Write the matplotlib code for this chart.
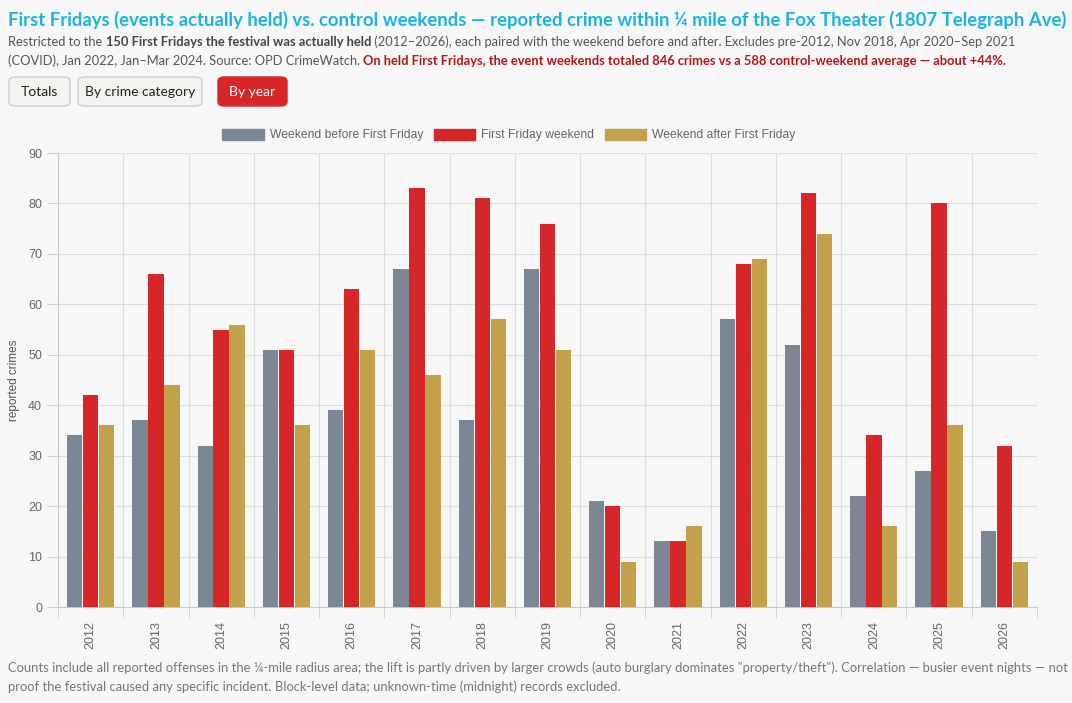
import matplotlib.pyplot as plt
from matplotlib.patches import FancyBboxPatch, Patch

years = ["2012", "2013", "2014", "2015", "2016", "2017", "2018", "2019",
         "2020", "2021", "2022", "2023", "2024", "2025", "2026"]
before = [34, 37, 32, 51, 39, 67, 37, 67, 21, 13, 57, 52, 22, 27, 15]
first_friday = [42, 66, 55, 51, 63, 83, 81, 76, 20, 13, 68, 82, 34, 80, 32]
after = [36, 44, 56, 36, 51, 46, 57, 51, 9, 16, 69, 74, 16, 36, 9]
series_names = ["Weekend before First Friday", "First Friday weekend", "Weekend after First Friday"]

BG = "#f7f7f7"
GRAY = "#7b8794"
RED = "#d62628"
GOLD = "#c2a14a"
W, H = 1072, 703
UI_FONT = "Lato"

fig = plt.figure(figsize=(W / 100, H / 100), dpi=100, facecolor=BG)
renderer = fig.canvas.get_renderer()


def fx(x):
    return x / W


def fy(y):
    return 1 - y / H


def run_text(x, y, parts, size, family=UI_FONT):
    # draw text segments one after another on one line
    for txt, weight, color in parts:
        t = fig.text(fx(x), fy(y), txt, fontsize=size, fontweight=weight, color=color,
                     family=family, va="baseline", ha="left")
        x += t.get_window_extent(renderer=renderer).width


# title and subtitle
fig.text(fx(8), fy(26), "First Fridays (events actually held) vs. control weekends \u2014 reported crime "
         "within \u00bc mile of the Fox Theater (1807 Telegraph Ave)",
         fontsize=13.3, fontweight="bold", color="#17b5e6", family=UI_FONT, va="baseline")
sub_gray = "#555555"
run_text(8, 46, [("Restricted to the ", "normal", sub_gray),
                 ("150 First Fridays the festival was actually held", "bold", "#444444"),
                 (" (2012\u20132026), each paired with the weekend before and after. Excludes pre-2012, "
                  "Nov 2018, Apr 2020\u2013Sep 2021", "normal", sub_gray)], 9.3)
run_text(8, 65, [("(COVID), Jan 2022, Jan\u2013Mar 2024. Source: OPD CrimeWatch. ", "normal", sub_gray),
                 ("On held First Fridays, the event weekends totaled 846 crimes vs a 588 "
                  "control-weekend average \u2014 about +44%.", "bold", "#b3151b")], 9.3)

# tab buttons
buttons = [("Totals", 9, 70, False), ("By crime category", 78, 202, False), ("By year", 218, 287, True)]
for label, x0, x1, active in buttons:
    box = FancyBboxPatch((fx(x0), fy(106)), fx(x1 - x0), 29 / H,
                         boxstyle="round,pad=0,rounding_size=0.006",
                         transform=fig.transFigure, facecolor=RED if active else "#f4f3ef",
                         edgecolor=RED if active else "#cccccc", linewidth=1)
    fig.patches.append(box)
    fig.text(fx((x0 + x1) / 2), fy(92), label, ha="center", va="center", fontsize=10,
             family=UI_FONT, color="white" if active else "#222222")

# chart
ax = fig.add_axes([fx(58), fy(607), fx(1037 - 58), (607 - 153) / H])
ax.set_facecolor(BG)
xs = list(range(len(years)))
bw = 0.235
for vals, color, off in [(before, GRAY, -0.245), (first_friday, RED, 0), (after, GOLD, 0.245)]:
    ax.bar([x + off for x in xs], vals, width=bw, color=color, zorder=3)

ax.set_xlim(-0.5, len(years) - 0.5)
ax.set_ylim(0, 90)
ax.set_yticks(range(0, 91, 10))
ax.set_xticks(xs)
ax.set_xticklabels(years, rotation=90, family="Liberation Sans", fontsize=9, color="#666666")
ax.set_xticks([x - 0.5 for x in range(len(years) + 1)], minor=True)
ax.tick_params(axis="x", which="major", length=0, pad=10)
ax.tick_params(axis="x", which="minor", length=8, color="#d0d0d0")
ax.tick_params(axis="y", length=8, color="#d0d0d0", labelsize=9, labelcolor="#666666")
for lab in ax.get_yticklabels():
    lab.set_family("Liberation Sans")
ax.grid(axis="y", color="#dddddd", linewidth=0.8, zorder=0)
ax.grid(axis="x", which="minor", color="#dddddd", linewidth=0.8, zorder=0)
for side in ["top", "right"]:
    ax.spines[side].set_visible(False)
for side in ["left", "bottom"]:
    ax.spines[side].set_color("#c8c8c8")
ax.set_ylabel("reported crimes", family="Liberation Sans", fontsize=8.5, color="#555555", labelpad=6)

handles = [Patch(facecolor=c, edgecolor=c) for c in (GRAY, RED, GOLD)]
leg = fig.legend(handles, series_names, loc="center", bbox_to_anchor=(fx(509), fy(135)), ncol=3,
                 frameon=False, handlelength=3.4, handleheight=1.0, columnspacing=0.9,
                 handletextpad=0.5, prop={"family": "Liberation Sans", "size": 8.7})
for t in leg.get_texts():
    t.set_color("#666666")

# footnote
foot = "#777777"
fig.text(fx(8), fy(672), "Counts include all reported offenses in the \u00bc-mile radius area; the lift is partly "
         "driven by larger crowds (auto burglary dominates \"property/theft\"). Correlation \u2014 busier event "
         "nights \u2014 not", fontsize=9.4, color=foot, family=UI_FONT, va="baseline")
fig.text(fx(8), fy(691), "proof the festival caused any specific incident. Block-level data; unknown-time "
         "(midnight) records excluded.", fontsize=9.4, color=foot, family=UI_FONT, va="baseline")

fig.savefig("out.png", dpi=100, facecolor=BG)
